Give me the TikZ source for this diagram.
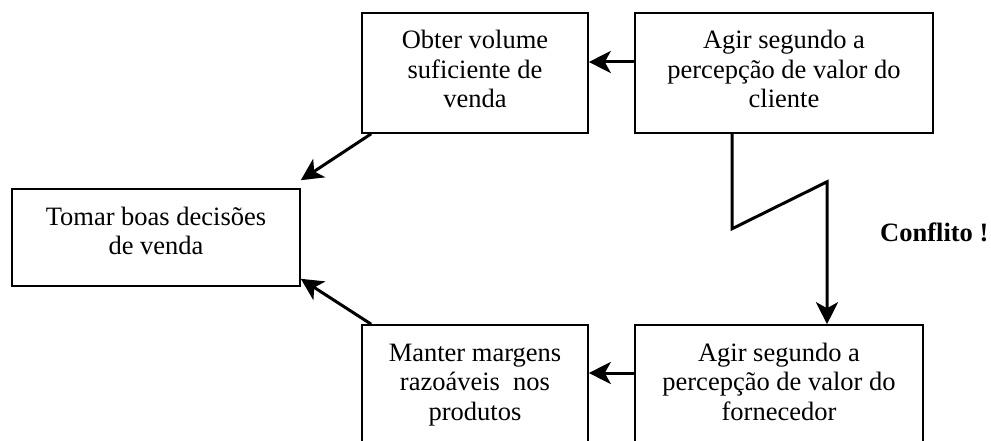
\documentclass[tikz,border=0pt]{standalone}
\usepackage{fontspec}
\setmainfont{Liberation Serif}
\usetikzlibrary{arrows.meta}

% top-aligned, centred text block of a fixed box size
\newcommand\cldtext[3]{\parbox[c][#2][t]{#1}{\centering\rule{0pt}{36pt}#3}}

\tikzset{
  boxnode/.style={draw, line width=1.6pt, inner sep=0pt,
    font=\fontsize{26.5}{29.5}\selectfont},
  arr/.style={line width=3pt, -{Stealth[length=22pt,width=22pt,inset=6pt]}},
}

\begin{document}
\begin{tikzpicture}[x=1pt,y=-1pt]
\useasboundingbox (0,0) rectangle (991,441);
\clip (0,0) rectangle (991,441);

\node[boxnode] (A) at (156,237.5) {\cldtext{288pt}{97pt}{Tomar boas decisões\\de venda}};
\node[boxnode] (B) at (475,73) {\cldtext{226pt}{120pt}{Obter volume\\suficiente de\\venda}};
\node[boxnode] (D) at (784,73) {\cldtext{298pt}{120pt}{Agir segundo a\\percepção de valor do\\cliente}};
\node[boxnode] (E) at (475,385) {\cldtext{226pt}{120pt}{Manter margens\\razoáveis\ \ nos\\produtos}};
\node[boxnode] (F) at (779,385) {\cldtext{288pt}{120pt}{Agir segundo a\\percepção de valor do\\fornecedor}};

\node[font=\bfseries\fontsize{26.5}{30}\selectfont, anchor=base west, inner sep=0pt]
  (conf) at (880,241) {Conflito !};

\draw[arr] ([yshift=11pt]D.west) -- ([yshift=11pt]B.east);
\draw[arr] ([yshift=12pt]F.west) -- ([yshift=12pt]E.east);
\draw[arr] ([xshift=10pt]B.south west) -- ([yshift=8pt]A.north east);
\draw[arr] ([xshift=10pt]E.north west) -- ([yshift=8pt]A.south east);

% the broken "conflict" connector
\draw[arr, line join=miter] ([xshift=-52pt]D.south) -- ++(0,95) -- ++(95,-47)
  -- ([xshift=48pt]F.north);
\end{tikzpicture}
\end{document}
